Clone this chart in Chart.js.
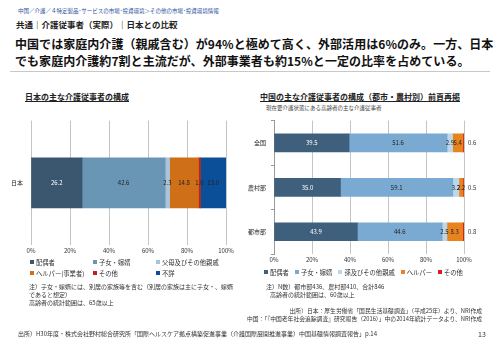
<!DOCTYPE html>
<html>
<head>
<meta charset="utf-8">
<script src="https://cdn.jsdelivr.net/npm/chart.js@4.4.1/dist/chart.umd.min.js"></script>
<style>
  body { margin: 0; background: #fff; font-family: "Noto Sans CJK JP", "Noto Sans", sans-serif; color: #222; }
  #page { position: relative; width: 500px; height: 353px; overflow: hidden; }
  .abs { position: absolute; white-space: nowrap; }
  #crumb { left: 18px; top: 7px; font-size: 5.5px; color: #3050a0; }
  #sub { left: 16px; top: 18px; font-size: 8.5px; font-weight: bold; }
  #title { left: 15px; top: 35px; font-size: 12px; letter-spacing: 0.05px; font-weight: bold; line-height: 17px; color: #111; }
  #rule { left: 10px; top: 71px; width: 480px; height: 1px; background: #c8c8c8; }
  .ctitle { font-size: 8px; font-weight: bold; text-decoration: underline; }
  #ltitle { left: 25px; top: 91px; }
  #rtitle { left: 260px; top: 91px; }
  #rsub { left: 266px; top: 104px; font-size: 5.5px; color: #444; }
  .legend { font-size: 6.3px; color: #333; }
  .legend span { display: inline-block; }
  .legend i { display: inline-block; width: 4px; height: 4px; margin-right: 2px; vertical-align: 1px; }
  #lleg { left: 30px; top: 258px; width: 200px; display: grid; grid-template-columns: 63px 63px 80px; row-gap: 2px; }
  #rleg { left: 264px; top: 268px; }
  #rleg span { margin-right: 6px; }
  .note { font-size: 6px; color: #333; line-height: 8px; }
  #lnote { left: 29px; top: 283px; }
  #rnote { left: 266px; top: 283px; }
  #src { right: 18px; top: 307px; font-size: 5.8px; color: #333; text-align: right; line-height: 8px; }
  #bottom { left: 18px; top: 329px; font-size: 6px; color: #333; }
  #pno { left: 478px; top: 329px; font-size: 7px; color: #333; }
  #lwrap { left: 0; top: 112px; width: 236px; height: 145px; }
  #rwrap { left: 230px; top: 112px; width: 262px; height: 154px; }
</style>
</head>
<body>
<div id="page">
  <div class="abs" id="crumb">中国／介護／４特定製品･サービスの市場･投資環境＞その他の市場･投資環境情報</div>
  <div class="abs" id="sub">共通｜介護従事者（実際）｜日本との比較</div>
  <div class="abs" id="title">中国では家庭内介護（親戚含む）が94%と極めて高く、外部活用は6%のみ。一方、日本<br>でも家庭内介護約7割と主流だが、外部事業者も約15%と一定の比率を占めている。</div>
  <div class="abs" id="rule"></div>

  <div class="abs ctitle" id="ltitle">日本の主な介護従事者の構成</div>
  <div class="abs ctitle" id="rtitle">中国の主な介護従事者の構成（都市・農村別）前頁再掲</div>
  <div class="abs" id="rsub">現在要介護状態にある高齢者の主な介護従事者</div>

  <div class="abs" id="lwrap"><canvas id="jpChart"></canvas></div>
  <div class="abs" id="rwrap"><canvas id="cnChart"></canvas></div>

  <div class="abs legend" id="lleg"></div>
  <div class="abs legend" id="rleg"></div>

  <div class="abs note" id="lnote">注）子女・嫁婿には、別居の家族等を含む（別居の家族は主に子女・、嫁婿<br>であると想定）<br>高齢者の統計範囲は、65歳以上</div>
  <div class="abs note" id="rnote">注）N数）都市部436、農村部410、合計846<br>&nbsp;&nbsp;&nbsp;高齢者の統計範囲は、60歳以上</div>

  <div class="abs" id="src">出所）日本：厚生労働省「国民生活基礎調査」（平成25年）より、NRI作成<br>中国：「『中国老年社会追踪調査』研究報告（2016）」中の2014年統計データより、NRI作成</div>
  <div class="abs" id="bottom">出所）H30年度・株式会社野村総合研究所「国際ヘルスケア拠点構築促進事業（介護国際展開推進事業）中国基礎情報調査報告」p.14</div>
  <div class="abs" id="pno">13</div>
</div>

<script>
// 日本
const jpCategories = ["日本"];
const jpSeriesNames = ["配偶者", "子女・嫁婿", "父母及びその他親戚", "ヘルパー(事業者)", "その他", "不詳"];
const jpValues = [[26.2], [42.6], [2.3], [14.8], [1.0], [13.0]];
const jpColors = ["#3b566f", "#6a96b6", "#a9c4d7", "#cf7018", "#c0201a", "#0a4f97"];

// 中国
const cnCategories = ["全国", "農村部", "都市部"];
const cnSeriesNames = ["配偶者", "子女・嫁婿", "孫及びその他親戚", "ヘルパー", "その他"];
const cnValues = [
  [39.5, 35.0, 43.9],
  [51.6, 59.1, 44.6],
  [2.9, 3.2, 2.5],
  [5.4, 2.2, 8.3],
  [0.6, 0.5, 0.8]
];
const cnColors = ["#3f607c", "#7aaad1", "#bcd7ea", "#e8841e", "#d42020"];

const pctTicks = [0, 20, 40, 60, 80, 100];

const tickFont = { family: "Noto Sans CJK JP", size: 6 };

// 棒の中に数値を描く
const barLabels = {
  id: "barLabels",
  afterDatasetsDraw(chart, args, opts) {
    const ctx = chart.ctx;
    ctx.save();
    ctx.font = "6px 'Noto Sans CJK JP'";
    ctx.textBaseline = "middle";
    chart.data.datasets.forEach((ds, i) => {
      const meta = chart.getDatasetMeta(i);
      meta.data.forEach((bar, j) => {
        const v = ds.data[j].toFixed(1);
        if (opts.outsideLast && i === chart.data.datasets.length - 1) {
          ctx.fillStyle = "#333";
          ctx.textAlign = "left";
          ctx.fillText(v, chart.chartArea.right + 4, bar.y);
        } else {
          ctx.fillStyle = i === 0 ? "#fff" : "#222";
          ctx.textAlign = "center";
          ctx.fillText(v, (bar.x + bar.base) / 2, bar.y);
        }
      });
    });
    ctx.restore();
  }
};

function makeChart(id, cats, names, values, colors, thick, yWidth, padRight, outsideLast, showYBorder) {
  return new Chart(document.getElementById(id), {
    type: "bar",
    data: {
      labels: cats,
      datasets: names.map((n, i) => ({
        label: n,
        data: values[i],
        backgroundColor: colors[i],
        barThickness: thick
      }))
    },
    options: {
      indexAxis: "y",
      responsive: true,
      maintainAspectRatio: false,
      animation: false,
      layout: { padding: { top: 6, right: padRight, left: 0, bottom: 0 } },
      plugins: {
        legend: { display: false },
        tooltip: { enabled: false },
        barLabels: { outsideLast: outsideLast }
      },
      scales: {
        x: {
          stacked: true,
          min: 0,
          max: 100,
          afterBuildTicks: (s) => { s.ticks = pctTicks.map(v => ({ value: v })); },
          ticks: { font: tickFont, color: "#333", padding: 2, callback: v => v + "%" },
          grid: { color: "#c4c4c4", drawTicks: false },
          border: { display: false },
          afterFit: (s) => { s.height = 12; }
        },
        y: {
          stacked: true,
          ticks: { font: { family: "Noto Sans CJK JP", size: 6 }, color: "#222", padding: 5 },
          grid: { display: showYBorder, drawOnChartArea: false, tickLength: 3, color: "#999" },
          border: { display: showYBorder, color: "#999" },
          afterFit: (s) => { s.width = yWidth; }
        }
      }
    },
    plugins: [barLabels]
  });
}

makeChart("jpChart", jpCategories, jpSeriesNames, jpValues, jpColors, 50, 31, 10, false, false);
makeChart("cnChart", cnCategories, cnSeriesNames, cnValues, cnColors, 18, 44, 28, true, true);

function buildLegend(el, names, colors) {
  document.getElementById(el).innerHTML = names
    .map((n, i) => `<span><i style="background:${colors[i]}"></i>${n}</span>`)
    .join("");
}
buildLegend("lleg", jpSeriesNames, jpColors);
buildLegend("rleg", cnSeriesNames, cnColors);
</script>
</body>
</html>
